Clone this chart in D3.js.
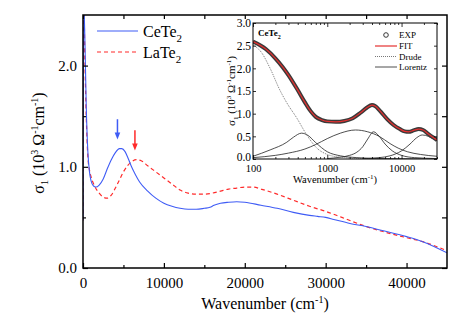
<!DOCTYPE html>
<html><head><meta charset="utf-8">
<script src="https://cdn.jsdelivr.net/npm/d3@7"></script>
<style>body{margin:0;background:#fff}svg{display:block;font-family:"Liberation Serif","Times New Roman",serif}</style>
</head><body><svg id="c" width="464" height="329"></svg>
<script>
// ---------- main panel data ----------
const ceTe2 = [[0,0.47],[100,2.6],[250,2.2],[400,1.6],[600,1.15],[800,0.95],[1000,0.86],[1300,0.81],[1600,0.80],[2000,0.82],[2500,0.88],[3000,0.98],[3500,1.07],[4000,1.14],[4500,1.18],[4800,1.18],[5200,1.15],[5600,1.08],[6000,1.0],[6500,0.92],[7000,0.85],[8000,0.76],[9000,0.69],[10000,0.64],[11000,0.61],[12000,0.59],[13000,0.58],[14000,0.58],[15000,0.59],[15700,0.60],[16200,0.62],[17000,0.64],[18000,0.65],[19000,0.655],[20000,0.65],[22000,0.62],[24000,0.59],[26000,0.55],[28000,0.52],[29000,0.51],[30000,0.50],[31000,0.48],[33000,0.44],[35000,0.41],[37000,0.37],[40000,0.31],[42000,0.26],[45000,0.15]];
const laTe2 = [[0,0.47],[100,2.6],[250,2.0],[400,1.5],[600,1.1],[800,0.97],[1000,0.9],[1500,0.80],[2000,0.74],[2500,0.70],[3000,0.69],[3500,0.72],[4000,0.79],[4500,0.87],[5000,0.95],[5500,1.01],[6000,1.05],[6600,1.07],[7200,1.06],[8000,1.01],[9000,0.95],[10000,0.89],[11000,0.83],[12000,0.77],[13000,0.74],[14000,0.73],[15000,0.73],[16000,0.74],[17000,0.76],[18000,0.78],[19000,0.79],[20000,0.80],[21000,0.80],[22000,0.78],[24000,0.73],[26000,0.67],[28000,0.61],[30000,0.56],[32000,0.50],[35000,0.41],[38000,0.34],[40000,0.30],[42000,0.26],[45000,0.17]];
const xTicksMain = [0,10000,20000,30000,40000];
const xMinorMain = [5000,15000,25000,35000];
const yTicksMain = [0,1,2];
const yMinorMain = [0.5,1.5];
const arrowsMain = [{name:"CeTe2",x:4260,y0:1.47,y1:1.27},{name:"LaTe2",x:6420,y0:1.36,y1:1.16}];

// ---------- inset data ----------
const expFit = [[100,2.59],[150,2.42],[200,2.22],[250,2.03],[300,1.85],[400,1.52],[500,1.25],[600,1.05],[700,0.93],[850,0.86],[1000,0.83],[1300,0.82],[1700,0.84],[2200,0.90],[2800,1.02],[3400,1.13],[4000,1.19],[4400,1.17],[5200,1.05],[6400,0.88],[7800,0.75],[9500,0.66],[11000,0.61],[12500,0.60],[14500,0.63],[17000,0.66],[19500,0.64],[23000,0.55],[27000,0.47],[30000,0.42]];
const drude = [[100,2.52],[130,2.35],[170,2.0],[230,1.52],[285,1.24],[390,0.90],[530,0.53],[725,0.24],[1000,0.10],[1500,0.04],[3000,0.01],[30000,0.0]];
const lorentz1 = [[100,0.06],[170,0.2],[285,0.37],[350,0.48],[450,0.57],[550,0.52],[700,0.36],[1000,0.16],[1500,0.07],[2500,0.03],[5000,0.01],[30000,0.0]];
const lorentz2 = [[100,0.03],[200,0.08],[300,0.13],[500,0.22],[700,0.32],[1000,0.45],[1500,0.57],[2400,0.64],[3500,0.60],[5000,0.50],[7000,0.34],[9000,0.24],[12000,0.16],[18000,0.10],[30000,0.06]];
const lorentz3 = [[1000,0.01],[1500,0.04],[2000,0.08],[2500,0.15],[3000,0.27],[3500,0.44],[4200,0.60],[5000,0.50],[6000,0.33],[7500,0.18],[10000,0.08],[15000,0.03],[30000,0.01]];
const lorentz4 = [[3000,0.01],[5000,0.03],[7000,0.07],[10000,0.18],[13000,0.33],[16000,0.47],[19000,0.53],[23000,0.50],[27000,0.44],[30000,0.40]];
const xTicksInset = [100,1000,10000];
const xMinorInset = [200,300,400,500,600,700,800,900,2000,3000,4000,5000,6000,7000,8000,9000,20000,30000];
const yTicksInset = [0,0.5,1,1.5,2,2.5,3];

const BLUE = "#3f5cf5", RED = "#ff2a2a";
const svg = d3.select("#c");

// ---------- main scales ----------
const x = d3.scaleLinear().domain([0,45000]).range([83,447]);
const y = d3.scaleLinear().domain([0,2.5]).range([268,15]);

svg.append("clipPath").attr("id","mclip").append("rect")
  .attr("x",83).attr("y",15).attr("width",364).attr("height",253);

const line = d3.line().x(d=>x(d[0])).y(d=>y(d[1])).curve(d3.curveMonotoneX);
const g = svg.append("g").attr("clip-path","url(#mclip)");
g.append("path").datum(laTe2).attr("d",line).attr("fill","none").attr("stroke",RED).attr("stroke-width",1.2).attr("stroke-dasharray","4,3");
g.append("path").datum(ceTe2).attr("d",line).attr("fill","none").attr("stroke",BLUE).attr("stroke-width",1.1);

const gx = svg.append("g").attr("transform","translate(0,268)")
  .call(d3.axisBottom(x).tickValues(xTicksMain).tickSize(-5).tickPadding(9).tickFormat(d3.format("d")));
const gxm = svg.append("g").attr("transform","translate(0,268)")
  .call(d3.axisBottom(x).tickValues(xMinorMain).tickSize(-3).tickFormat(""));
const gxt = svg.append("g").attr("transform","translate(0,15)")
  .call(d3.axisTop(x).tickValues(xTicksMain.concat(xMinorMain)).tickSize(-4).tickFormat(""));
const gy = svg.append("g").attr("transform","translate(83,0)")
  .call(d3.axisLeft(y).tickValues(yTicksMain).tickSize(-5).tickPadding(6).tickFormat(d3.format(".1f")));
const gym = svg.append("g").attr("transform","translate(83,0)")
  .call(d3.axisLeft(y).tickValues(yMinorMain).tickSize(-3).tickFormat(""));
const gyr = svg.append("g").attr("transform","translate(447,0)")
  .call(d3.axisRight(y).tickValues(yTicksMain.concat(yMinorMain)).tickSize(-5).tickFormat(""));
[gx,gxm,gxt,gy,gym,gyr].forEach(a=>{
  a.select(".domain").remove();
  a.selectAll("line").attr("stroke","#000").attr("stroke-width",1.2);
  a.selectAll("text").attr("font-family","Liberation Serif").attr("font-size",15).attr("fill","#000");
});
svg.append("rect").attr("x",83).attr("y",15).attr("width",364).attr("height",253)
  .attr("fill","none").attr("stroke","#000").attr("stroke-width",1.5);

// axis titles
const xt = svg.append("text").attr("x",265).attr("y",309).attr("text-anchor","middle").attr("font-size",16);
xt.append("tspan").text("Wavenumber (cm");
xt.append("tspan").attr("dy",-6).attr("font-size",10).text("-1");
xt.append("tspan").attr("dy",6).text(")");

const yt = svg.append("text").attr("transform","translate(44,143) rotate(-90)").attr("text-anchor","middle").attr("font-size",16);
yt.append("tspan").text("σ");
yt.append("tspan").attr("dy",4).attr("font-size",10).text("1");
yt.append("tspan").attr("dy",-4).text(" (10");
yt.append("tspan").attr("dy",-6).attr("font-size",10).text("3");
yt.append("tspan").attr("dy",6).text(" Ω");
yt.append("tspan").attr("dy",-6).attr("font-size",10).text("-1");
yt.append("tspan").attr("dy",6).text("cm");
yt.append("tspan").attr("dy",-6).attr("font-size",10).text("-1");
yt.append("tspan").attr("dy",6).text(")");

// legend
const legend = [{name:"CeTe",color:BLUE,dash:null,ly:31},{name:"LaTe",color:RED,dash:"4,3",ly:52}];
legend.forEach(l=>{
  svg.append("line").attr("x1",97).attr("x2",138).attr("y1",l.ly).attr("y2",l.ly)
    .attr("stroke",l.color).attr("stroke-width",1.2).attr("stroke-dasharray",l.dash);
  const t = svg.append("text").attr("x",143).attr("y",l.ly+6).attr("font-size",16);
  t.append("tspan").text(l.name);
  t.append("tspan").attr("dy",5).attr("font-size",11).text("2");
});

// arrows
arrowsMain.forEach((a,i)=>{
  const c = i===0?BLUE:RED;
  const px = x(a.x), py0 = y(a.y0), py1 = y(a.y1);
  svg.append("line").attr("x1",px).attr("x2",px).attr("y1",py0).attr("y2",py1-5).attr("stroke",c).attr("stroke-width",1.5);
  svg.append("path").attr("d",`M${px-2.8},${py1-7}L${px+2.8},${py1-7}L${px},${py1}Z`).attr("fill",c);
});

// ---------- inset ----------
const xi = d3.scaleLog().domain([100,30000]).range([253,437]);
const yi = d3.scaleLinear().domain([0,3]).range([159,23]);
svg.append("rect").attr("x",253).attr("y",23).attr("width",184).attr("height",136).attr("fill","#fff");
svg.append("clipPath").attr("id","iclip").append("rect").attr("x",253).attr("y",23).attr("width",184).attr("height",136);
const li = d3.line().x(d=>xi(d[0])).y(d=>yi(d[1])).curve(d3.curveMonotoneX);
const gi = svg.append("g").attr("clip-path","url(#iclip)");
[lorentz1,lorentz2,lorentz3,lorentz4].forEach(s=>{
  gi.append("path").datum(s).attr("d",li).attr("fill","none").attr("stroke","#222").attr("stroke-width",0.8);
});
gi.append("path").datum(drude).attr("d",li).attr("fill","none").attr("stroke","#555").attr("stroke-width",0.8).attr("stroke-dasharray","1,1");
gi.append("path").datum(expFit).attr("d",li).attr("fill","none").attr("stroke","#3a3a3a").attr("stroke-width",4);
gi.append("path").datum(expFit).attr("d",li).attr("fill","none").attr("stroke","#e53030").attr("stroke-width",1.2);

const ix = svg.append("g").attr("transform","translate(0,159)")
  .call(d3.axisBottom(xi).tickValues(xTicksInset).tickSize(-4).tickPadding(6).tickFormat(d3.format("d")));
const ixm = svg.append("g").attr("transform","translate(0,159)")
  .call(d3.axisBottom(xi).tickValues(xMinorInset).tickSize(-2).tickFormat(""));
const ixt = svg.append("g").attr("transform","translate(0,23)")
  .call(d3.axisTop(xi).tickValues(xTicksInset).tickSize(-4).tickFormat(""));
const ixtm = svg.append("g").attr("transform","translate(0,23)")
  .call(d3.axisTop(xi).tickValues(xMinorInset).tickSize(-2).tickFormat(""));
const iy = svg.append("g").attr("transform","translate(253,0)")
  .call(d3.axisLeft(yi).tickValues(yTicksInset).tickSize(-3).tickPadding(2).tickFormat(d3.format(".1f")));
const iyr = svg.append("g").attr("transform","translate(437,0)")
  .call(d3.axisRight(yi).tickValues(yTicksInset).tickSize(-3).tickFormat(""));
[ix,ixm,ixt,ixtm,iy,iyr].forEach(a=>{
  a.select(".domain").remove();
  a.selectAll("line").attr("stroke","#000").attr("stroke-width",0.8);
  a.selectAll("text").attr("font-family","Liberation Serif").attr("fill","#000");
});
ix.selectAll("text").attr("font-size",10.5);
iy.selectAll("text").attr("font-size",11.5);
iy.selectAll(".tick").filter(d=>d===0).select("text").attr("dy","0.1em");
svg.append("rect").attr("x",253).attr("y",23).attr("width",184).attr("height",136)
  .attr("fill","none").attr("stroke","#000").attr("stroke-width",1);

const ixT = svg.append("text").attr("x",335).attr("y",183).attr("text-anchor","middle").attr("font-size",10.5);
ixT.append("tspan").text("Wavenumber (cm");
ixT.append("tspan").attr("dy",-4).attr("font-size",7).text("-1");
ixT.append("tspan").attr("dy",4).text(")");

const iyT = svg.append("text").attr("transform","translate(235,91) rotate(-90)").attr("text-anchor","middle").attr("font-size",11);
iyT.append("tspan").text("σ");
iyT.append("tspan").attr("dy",3).attr("font-size",7).text("1");
iyT.append("tspan").attr("dy",-3).text(" (10");
iyT.append("tspan").attr("dy",-4).attr("font-size",7).text("3");
iyT.append("tspan").attr("dy",4).text(" Ω");
iyT.append("tspan").attr("dy",-4).attr("font-size",7).text("-1");
iyT.append("tspan").attr("dy",4).text("cm");
iyT.append("tspan").attr("dy",-4).attr("font-size",7).text("-1");
iyT.append("tspan").attr("dy",4).text(")");

const cl = svg.append("text").attr("x",258).attr("y",36).attr("font-size",9).attr("font-weight","bold");
cl.append("tspan").text("CeTe");
cl.append("tspan").attr("dy",3).attr("font-size",6).text("2");

// inset legend
const ilg = [{name:"EXP",kind:"circle",ly:35},{name:"FIT",kind:"fit",ly:46},{name:"Drude",kind:"drude",ly:56.5},{name:"Lorentz",kind:"lorentz",ly:67}];
ilg.forEach(l=>{
  if(l.kind==="circle"){
    svg.append("circle").attr("cx",386).attr("cy",l.ly).attr("r",2.3).attr("fill","none").attr("stroke","#222").attr("stroke-width",0.9);
  } else {
    svg.append("line").attr("x1",375).attr("x2",397).attr("y1",l.ly).attr("y2",l.ly)
      .attr("stroke", l.kind==="fit"?"#e53030":(l.kind==="drude"?"#555":"#222"))
      .attr("stroke-width", l.kind==="fit"?1.2:0.8)
      .attr("stroke-dasharray", l.kind==="drude"?"1,1":null);
  }
  svg.append("text").attr("x",399).attr("y",l.ly+3).attr("font-size",9).text(l.name);
});
</script></body></html>
